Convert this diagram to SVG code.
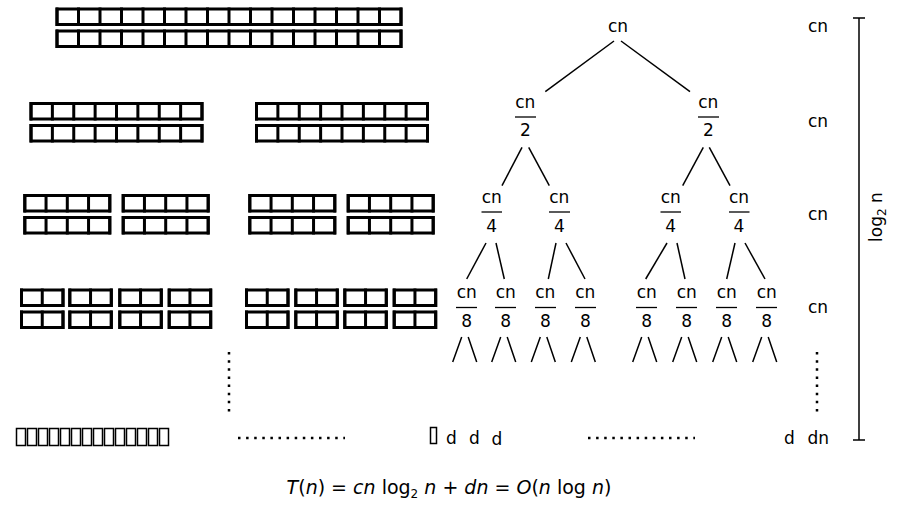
<svg xmlns="http://www.w3.org/2000/svg" xmlns:xlink="http://www.w3.org/1999/xlink" width="899" height="526" viewBox="0 0 899 526">
<style>
.cell{fill:none;stroke:#000;stroke-width:3}
.div{fill:none;stroke:#000;stroke-width:18.5}
.t{font-family:"DejaVu Sans",sans-serif;font-size:17px;fill:#000}
.m{text-anchor:middle}
.frac{stroke:#000;stroke-width:1.3}
.edge{stroke:#000;stroke-width:1.5;fill:none}
.dots{stroke:#000;stroke-width:2.5;fill:none}
.tofu{fill:none;stroke:#000;stroke-width:1.5}
.f{font-family:"DejaVu Sans",sans-serif;font-size:19px;fill:#000}
</style>
<defs>
<g id="a16">
<rect class="cell" x="0" y="0" width="344" height="15.5"/>
<line class="div" x1="-1.5" x2="345.5" y1="7.75" y2="7.75" stroke-dasharray="3 18.5"/>
<rect class="cell" x="0" y="22" width="344" height="15.5"/>
<line class="div" x1="-1.5" x2="345.5" y1="29.75" y2="29.75" stroke-dasharray="3 18.5"/>
</g>
<g id="a8">
<rect class="cell" x="0" y="0" width="171" height="15.5"/>
<line class="div" x1="-1.5" x2="172.5" y1="7.75" y2="7.75" stroke-dasharray="3 18.375"/>
<rect class="cell" x="0" y="22" width="171" height="15.5"/>
<line class="div" x1="-1.5" x2="172.5" y1="29.75" y2="29.75" stroke-dasharray="3 18.375"/>
</g>
<g id="a4">
<rect class="cell" x="0" y="0" width="85" height="15.5"/>
<line class="div" x1="-1.5" x2="86.5" y1="7.75" y2="7.75" stroke-dasharray="3 18.25"/>
<rect class="cell" x="0" y="22" width="85" height="15.5"/>
<line class="div" x1="-1.5" x2="86.5" y1="29.75" y2="29.75" stroke-dasharray="3 18.25"/>
</g>
<g id="a2">
<rect class="cell" x="0" y="0" width="41.5" height="15.5"/>
<line class="div" x1="-1.5" x2="43" y1="7.75" y2="7.75" stroke-dasharray="3 17.75"/>
<rect class="cell" x="0" y="22" width="41.5" height="15.5"/>
<line class="div" x1="-1.5" x2="43" y1="29.75" y2="29.75" stroke-dasharray="3 17.75"/>
</g>
</defs>

<g id="arrays">
<g id="arr-l0"><use xlink:href="#a16" x="57" y="9"/></g>
<g id="arr-l1-0"><use xlink:href="#a8" x="31" y="103.5"/></g>
<g id="arr-l1-1"><use xlink:href="#a8" x="256.5" y="103.5"/></g>
<g id="arr-l2-0"><use xlink:href="#a4" x="24.8" y="195.5"/></g>
<g id="arr-l2-1"><use xlink:href="#a4" x="123.2" y="195.5"/></g>
<g id="arr-l2-2"><use xlink:href="#a4" x="249.8" y="195.5"/></g>
<g id="arr-l2-3"><use xlink:href="#a4" x="348.2" y="195.5"/></g>
<g id="arr-l3-0"><use xlink:href="#a2" x="21.5" y="290"/></g>
<g id="arr-l3-1"><use xlink:href="#a2" x="69.8" y="290"/></g>
<g id="arr-l3-2"><use xlink:href="#a2" x="119.8" y="290"/></g>
<g id="arr-l3-3"><use xlink:href="#a2" x="169.2" y="290"/></g>
<g id="arr-l3-4"><use xlink:href="#a2" x="246.5" y="290"/></g>
<g id="arr-l3-5"><use xlink:href="#a2" x="295.8" y="290"/></g>
<g id="arr-l3-6"><use xlink:href="#a2" x="344.8" y="290"/></g>
<g id="arr-l3-7"><use xlink:href="#a2" x="394.2" y="290"/></g>
<g id="arr-leaves">
<rect class="tofu" x="16.5" y="428.5" width="9" height="17"/>
<rect class="tofu" x="27.5" y="428.5" width="9" height="17"/>
<rect class="tofu" x="38.5" y="428.5" width="9" height="17"/>
<rect class="tofu" x="49.5" y="428.5" width="9" height="17"/>
<rect class="tofu" x="60.5" y="428.5" width="9" height="17"/>
<rect class="tofu" x="71.5" y="428.5" width="9" height="17"/>
<rect class="tofu" x="82.5" y="428.5" width="9" height="17"/>
<rect class="tofu" x="93.5" y="428.5" width="9" height="17"/>
<rect class="tofu" x="104.5" y="428.5" width="9" height="17"/>
<rect class="tofu" x="115.5" y="428.5" width="9" height="17"/>
<rect class="tofu" x="126.5" y="428.5" width="9" height="17"/>
<rect class="tofu" x="137.5" y="428.5" width="9" height="17"/>
<rect class="tofu" x="148.5" y="428.5" width="9" height="17"/>
<rect class="tofu" x="159.5" y="428.5" width="9" height="17"/>
</g>
</g>

<g id="ellipses">
<line class="dots" x1="229" y1="352" x2="229" y2="412" stroke-dasharray="2.5 5.64"/>
<line class="dots" x1="238" y1="438" x2="345" y2="438" stroke-dasharray="2.5 5.6"/>
<line class="dots" x1="588" y1="438" x2="695" y2="438" stroke-dasharray="2.5 5.6"/>
<line class="dots" x1="817" y1="352" x2="817" y2="412" stroke-dasharray="2.5 5.64"/>
</g>

<g id="connectors">
<line class="edge" x1="614" y1="41" x2="545.3" y2="91.7"/>
<line class="edge" x1="621" y1="41" x2="690" y2="91.7"/>
<line class="edge" x1="522" y1="147.3" x2="502" y2="185.7"/>
<line class="edge" x1="528.7" y1="147.3" x2="549.3" y2="185.7"/>
<line class="edge" x1="703.3" y1="147.3" x2="682.7" y2="185.7"/>
<line class="edge" x1="709.3" y1="147.3" x2="730" y2="185.7"/>
<line class="edge" x1="486" y1="243" x2="466.7" y2="279"/>
<line class="edge" x1="496" y1="243" x2="504.3" y2="279"/>
<line class="edge" x1="556" y1="243" x2="548.3" y2="279"/>
<line class="edge" x1="566" y1="243" x2="585" y2="279"/>
<line class="edge" x1="667" y1="243" x2="645.7" y2="279"/>
<line class="edge" x1="677" y1="243" x2="685" y2="279"/>
<line class="edge" x1="735" y1="243" x2="726.7" y2="279"/>
<line class="edge" x1="745" y1="243" x2="765" y2="279"/>
<path class="edge" d="M461.7 337L452.7 362M468.2 337L476.7 362M500.7 337L491.7 362M507.2 337L515.7 362M540.3 337L531.3 362M546.8 337L555.3 362M580.3 337L571.3 362M586.8 337L595.3 362M641.7 337L632.7 362M648.2 337L656.7 362M681.7 337L672.7 362M688.2 337L696.7 362M721.7 337L712.7 362M728.2 337L736.7 362M761.7 337L752.7 362M768.2 337L776.7 362"/>
</g>

<g id="n-root"><text class="t m" x="618" y="32">cn</text></g>
<g id="n-l1-0"><text class="t m" x="525.3" y="108">cn</text><line class="frac" x1="515" y1="117" x2="536" y2="117"/><text class="t m" x="525.3" y="136">2</text></g>
<g id="n-l1-1"><text class="t m" x="708.3" y="108">cn</text><line class="frac" x1="698" y1="117" x2="719" y2="117"/><text class="t m" x="708.3" y="136">2</text></g>
<g id="n-l2-0"><text class="t m" x="491.7" y="203">cn</text><line class="frac" x1="481.5" y1="212" x2="502" y2="212"/><text class="t m" x="491.7" y="232">4</text></g>
<g id="n-l2-1"><text class="t m" x="559.3" y="203">cn</text><line class="frac" x1="549" y1="212" x2="570" y2="212"/><text class="t m" x="559.3" y="232">4</text></g>
<g id="n-l2-2"><text class="t m" x="670.7" y="203">cn</text><line class="frac" x1="660.5" y1="212" x2="681" y2="212"/><text class="t m" x="670.7" y="232">4</text></g>
<g id="n-l2-3"><text class="t m" x="739" y="203">cn</text><line class="frac" x1="729" y1="212" x2="749.5" y2="212"/><text class="t m" x="739" y="232">4</text></g>
<g id="n-l3-0"><text class="t m" x="466.7" y="298">cn</text><line class="frac" x1="456" y1="307.5" x2="477" y2="307.5"/><text class="t m" x="466.7" y="327">8</text></g>
<g id="n-l3-1"><text class="t m" x="505.7" y="298">cn</text><line class="frac" x1="495" y1="307.5" x2="516" y2="307.5"/><text class="t m" x="505.7" y="327">8</text></g>
<g id="n-l3-2"><text class="t m" x="545.3" y="298">cn</text><line class="frac" x1="535" y1="307.5" x2="556" y2="307.5"/><text class="t m" x="545.3" y="327">8</text></g>
<g id="n-l3-3"><text class="t m" x="585.3" y="298">cn</text><line class="frac" x1="575" y1="307.5" x2="596" y2="307.5"/><text class="t m" x="585.3" y="327">8</text></g>
<g id="n-l3-4"><text class="t m" x="646.7" y="298">cn</text><line class="frac" x1="636" y1="307.5" x2="657" y2="307.5"/><text class="t m" x="646.7" y="327">8</text></g>
<g id="n-l3-5"><text class="t m" x="686.7" y="298">cn</text><line class="frac" x1="676" y1="307.5" x2="697" y2="307.5"/><text class="t m" x="686.7" y="327">8</text></g>
<g id="n-l3-6"><text class="t m" x="726.7" y="298">cn</text><line class="frac" x1="716" y1="307.5" x2="737" y2="307.5"/><text class="t m" x="726.7" y="327">8</text></g>
<g id="n-l3-7"><text class="t m" x="766.7" y="298">cn</text><line class="frac" x1="756" y1="307.5" x2="777" y2="307.5"/><text class="t m" x="766.7" y="327">8</text></g>

<g id="leaves">
<rect class="tofu" x="430.5" y="427.5" width="6" height="16"/>
<text class="t" x="446" y="444">d</text>
<text class="t" x="469" y="444">d</text>
<text class="t" x="491.5" y="445">d</text>
<text class="t" x="784" y="444">d</text>
<text class="t" x="807.5" y="444">dn</text>
</g>

<g id="level-costs">
<text class="t m" x="818" y="32">cn</text>
<text class="t m" x="818" y="127">cn</text>
<text class="t m" x="818" y="220">cn</text>
<text class="t m" x="818" y="313">cn</text>
</g>

<g id="height">
<path class="edge" d="M859 18V440M853 18H865M853 440H865"/>
<text class="t m" transform="translate(882 217) rotate(-90)" x="0" y="0">log<tspan font-size="12" dy="4">2</tspan><tspan dy="-4"> n</tspan></text>
</g>

<g id="formula">
<text class="f m" x="449" y="494"><tspan font-style="italic">T</tspan>(<tspan font-style="italic">n</tspan>) = <tspan font-style="italic">cn</tspan> log<tspan font-size="12" dy="4">2</tspan><tspan dy="-4"> </tspan><tspan font-style="italic">n</tspan> + <tspan font-style="italic">dn</tspan> = <tspan font-style="italic">O</tspan>(<tspan font-style="italic">n</tspan> log <tspan font-style="italic">n</tspan>)</text>
</g>
</svg>
